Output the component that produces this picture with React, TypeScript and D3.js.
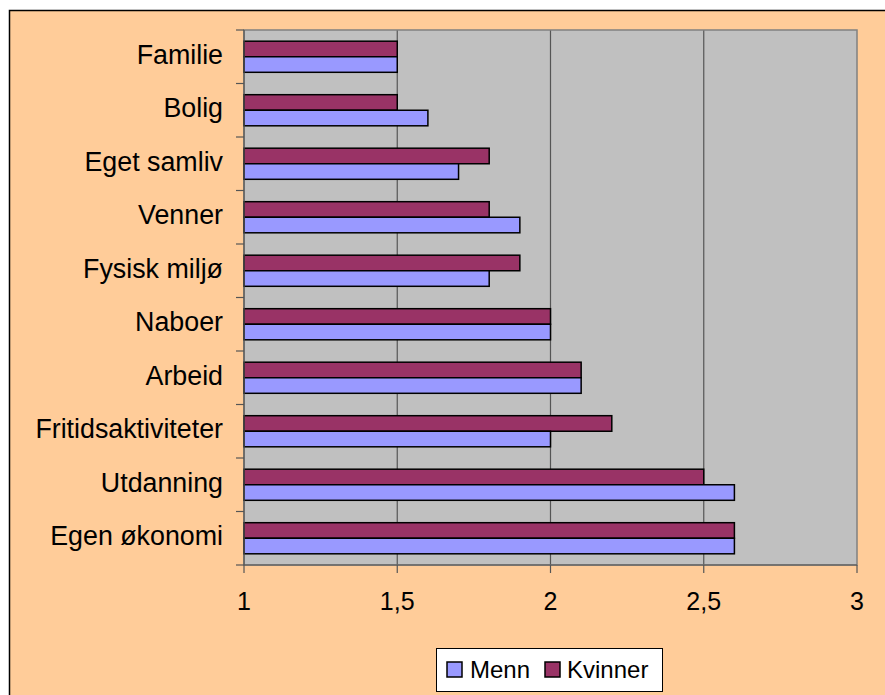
import React from "react";
import * as d3 from "d3";

const categories = [
  "Familie",
  "Bolig",
  "Eget samliv",
  "Venner",
  "Fysisk miljø",
  "Naboer",
  "Arbeid",
  "Fritidsaktiviteter",
  "Utdanning",
  "Egen økonomi",
];
const kvinner = [1.5, 1.5, 1.8, 1.8, 1.9, 2.0, 2.1, 2.2, 2.5, 2.6];
const menn = [1.5, 1.6, 1.7, 1.9, 1.8, 2.0, 2.1, 2.0, 2.6, 2.6];
const xTicks = [1, 1.5, 2, 2.5, 3];

const W = 885;
const H = 695;
const plot = { left: 244, right: 857, top: 30, bottom: 565 };
const font = "'Liberation Sans', Arial, sans-serif";

export default function App() {
  const x = d3.scaleLinear().domain([1, 3]).range([plot.left, plot.right]);
  const y = d3
    .scaleBand<string>()
    .domain(categories)
    .range([plot.top, plot.bottom]);
  const inner = d3
    .scaleBand<string>()
    .domain(["Kvinner", "Menn"])
    .range([0, y.bandwidth()])
    .paddingInner(0)
    .paddingOuter(0.72);
  const fmt = (v: number) => String(v).replace(".", ",");

  return (
    <svg
      width={W}
      height={H}
      style={{ position: "absolute", left: 0, top: 0 }}
    >
      <rect x={0} y={0} width={W} height={H} fill="#ffffff" />
      <rect
        x={9.5}
        y={10.5}
        width={W}
        height={H}
        fill="#FFCC99"
        stroke="#000"
        strokeWidth={1.5}
      />
      <rect
        x={plot.left}
        y={plot.top}
        width={plot.right - plot.left}
        height={plot.bottom - plot.top}
        fill="#C0C0C0"
      />
      {xTicks.slice(1, -1).map((t) => (
        <line
          key={t}
          x1={x(t)}
          x2={x(t)}
          y1={plot.top}
          y2={plot.bottom}
          stroke="#555"
          strokeWidth={1.2}
        />
      ))}
      <rect
        x={plot.left}
        y={plot.top}
        width={plot.right - plot.left}
        height={plot.bottom - plot.top}
        fill="none"
        stroke="#808080"
        strokeWidth={1.5}
      />
      {categories.map((c, i) => (
        <g key={c}>
          <rect
            x={x(1)}
            y={(y(c) as number) + (inner("Kvinner") as number)}
            width={x(kvinner[i]) - x(1)}
            height={inner.bandwidth()}
            fill="#993366"
            stroke="#000"
            strokeWidth={1.5}
          />
          <rect
            x={x(1)}
            y={(y(c) as number) + (inner("Menn") as number)}
            width={x(menn[i]) - x(1)}
            height={inner.bandwidth()}
            fill="#9999FF"
            stroke="#000"
            strokeWidth={1.5}
          />
          <text
            x={223}
            y={(y(c) as number) + y.bandwidth() / 2 - 2}
            textAnchor="end"
            dominantBaseline="central"
            fontFamily={font}
            fontSize={26.8}
            fill="#000"
          >
            {c}
          </text>
        </g>
      ))}
      {/* y axis */}
      <line
        x1={plot.left}
        x2={plot.left}
        y1={plot.top}
        y2={plot.bottom}
        stroke="#555"
        strokeWidth={1.2}
      />
      {d3.range(categories.length + 1).map((i) => {
        const yy = plot.top + i * y.step();
        return (
          <line
            key={i}
            x1={236}
            x2={plot.left}
            y1={yy}
            y2={yy}
            stroke="#555"
            strokeWidth={1.2}
          />
        );
      })}
      {/* x axis */}
      <line
        x1={plot.left}
        x2={plot.right}
        y1={plot.bottom}
        y2={plot.bottom}
        stroke="#555"
        strokeWidth={1.2}
      />
      {xTicks.map((t) => (
        <g key={t}>
          <line
            x1={x(t)}
            x2={x(t)}
            y1={plot.bottom}
            y2={plot.bottom + 8}
            stroke="#555"
            strokeWidth={1.2}
          />
          <text
            x={x(t)}
            y={601}
            textAnchor="middle"
            dominantBaseline="central"
            fontFamily={font}
            fontSize={25}
          >
            {fmt(t)}
          </text>
        </g>
      ))}
      {/* legend */}
      <rect
        x={436.5}
        y={648.5}
        width={226}
        height={43}
        fill="#fff"
        stroke="#000"
        strokeWidth={1}
      />
      <rect
        x={447}
        y={662}
        width={15}
        height={15}
        fill="#9999FF"
        stroke="#000"
        strokeWidth={1.5}
      />
      <text
        x={470}
        y={669}
        dominantBaseline="central"
        fontFamily={font}
        fontSize={24}
      >
        Menn
      </text>
      <rect
        x={545}
        y={662}
        width={15}
        height={15}
        fill="#993366"
        stroke="#000"
        strokeWidth={1.5}
      />
      <text
        x={567}
        y={669}
        dominantBaseline="central"
        fontFamily={font}
        fontSize={24}
      >
        Kvinner
      </text>
    </svg>
  );
}
